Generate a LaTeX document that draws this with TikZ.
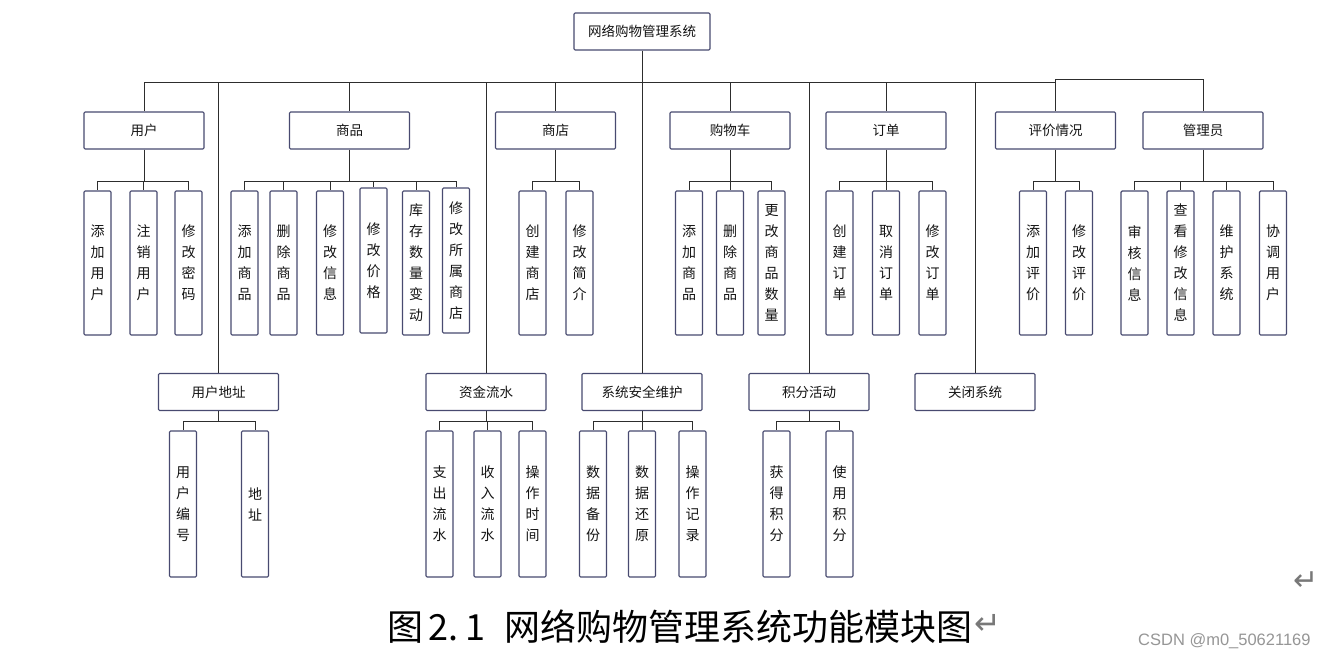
\documentclass[tikz,border=0pt]{standalone}
\usepackage{fontspec}
\newfontfamily\cjk{Noto Sans CJK SC}
\newfontfamily\dejavu{DejaVu Sans}
\newfontfamily\lsans{Liberation Sans}
\definecolor{boxc}{RGB}{72,74,112}
\definecolor{linec}{RGB}{45,45,45}
\definecolor{txt}{RGB}{20,20,20}
\definecolor{markc}{RGB}{120,120,120}
\definecolor{wmc}{RGB}{150,150,150}
\tikzset{
  box/.style={draw=boxc, line width=1.1pt, rounded corners=1.2pt, fill=white, inner sep=0pt, text=txt},
  topbox/.style={box, minimum width=120pt, minimum height=37pt, font=\cjk\fontsize{13.5}{16}\selectfont},
  leafbox/.style={box, minimum width=27pt, minimum height=144pt, align=center, font=\cjk\fontsize{14}{21}\selectfont},
  leaftwo/.style={leafbox, minimum height=146pt},
  conn/.style={draw=linec, line width=0.9pt},
}
\begin{document}
\begin{tikzpicture}[x=1pt,y=-1pt]
\useasboundingbox[fill=white] (0,0) rectangle (1329,656);
% root
\node[topbox, minimum width=136pt] (root) at (642,31.5) {网络购物管理系统};
% first level
\node[topbox] (user) at (144,130.5) {用户};
\node[topbox] (goods) at (349.5,130.5) {商品};
\node[topbox] (shop) at (555.5,130.5) {商店};
\node[topbox] (cart) at (730,130.5) {购物车};
\node[topbox] (order) at (886,130.5) {订单};
\node[topbox] (review) at (1055.5,130.5) {评价情况};
\node[topbox] (admin) at (1203,130.5) {管理员};
% second level
\node[topbox] (addr) at (218.5,392) {用户地址};
\node[topbox] (fund) at (486,392) {资金流水};
\node[topbox] (safe) at (642,392) {系统安全维护};
\node[topbox] (points) at (809,392) {积分活动};
\node[topbox] (close) at (975,392) {关闭系统};
% leaves row 1
\node[leafbox] (u1) at (97.5,263) {添\\加\\用\\户};
\node[leafbox] (u2) at (143.5,263) {注\\销\\用\\户};
\node[leafbox] (u3) at (188.5,263) {修\\改\\密\\码};
\node[leafbox] (g1) at (244.5,263) {添\\加\\商\\品};
\node[leafbox] (g2) at (283.5,263) {删\\除\\商\\品};
\node[leafbox] (g3) at (330,263) {修\\改\\信\\息};
\node[leafbox, minimum height=145pt] (g4) at (373.5,260.5) {修\\改\\价\\格};
\node[leafbox] (g5) at (416,263) {库\\存\\数\\量\\变\\动};
\node[leafbox, minimum height=145pt] (g6) at (456,260.5) {修\\改\\所\\属\\商\\店};
\node[leafbox] (s1) at (532.5,263) {创\\建\\商\\店};
\node[leafbox] (s2) at (579.5,263) {修\\改\\简\\介};
\node[leafbox] (c1) at (689,263) {添\\加\\商\\品};
\node[leafbox] (c2) at (730,263) {删\\除\\商\\品};
\node[leafbox] (c3) at (771.5,263) {更\\改\\商\\品\\数\\量};
\node[leafbox] (o1) at (839.5,263) {创\\建\\订\\单};
\node[leafbox] (o2) at (886,263) {取\\消\\订\\单};
\node[leafbox] (o3) at (932.5,263) {修\\改\\订\\单};
\node[leafbox] (r1) at (1033,263) {添\\加\\评\\价};
\node[leafbox] (r2) at (1079,263) {修\\改\\评\\价};
\node[leafbox] (a1) at (1134.5,263) {审\\核\\信\\息};
\node[leafbox] (a2) at (1180.5,263) {查\\看\\修\\改\\信\\息};
\node[leafbox] (a3) at (1226.5,263) {维\\护\\系\\统};
\node[leafbox] (a4) at (1273,263) {协\\调\\用\\户};
% leaves row 2
\node[leaftwo] (ad1) at (183,504) {用\\户\\编\\号};
\node[leaftwo] (ad2) at (255,504) {地\\址};
\node[leaftwo] (f1) at (439.5,504) {支\\出\\流\\水};
\node[leaftwo] (f2) at (487.5,504) {收\\入\\流\\水};
\node[leaftwo] (f3) at (532.5,504) {操\\作\\时\\间};
\node[leaftwo] (sf1) at (593,504) {数\\据\\备\\份};
\node[leaftwo] (sf2) at (642,504) {数\\据\\还\\原};
\node[leaftwo] (sf3) at (692.5,504) {操\\作\\记\\录};
\node[leaftwo] (p1) at (776.5,504) {获\\得\\积\\分};
\node[leaftwo] (p2) at (839.5,504) {使\\用\\积\\分};
% main bus
\coordinate (bus) at (642,82);
\coordinate (revtop) at (1055.5,79);
\draw[conn] (root.south) -- (safe.north);
\foreach \n in {user,goods,shop,cart,order,review,addr,fund,points,close}
  \draw[conn] (bus) -| (\n.north);
\draw[conn] (review.north) -- (revtop) -| (admin.north);
% group buses
\foreach \p/\x/\y/\kids in {user/144/181/{u1,u2,u3}, goods/349.5/181/{g1,g2,g3,g4,g5,g6}, shop/555.5/181/{s1,s2}, cart/730/181/{c1,c2,c3}, order/886/181/{o1,o2,o3}, review/1055.5/181/{r1,r2}, admin/1203/181/{a1,a2,a3,a4}, addr/218.5/421/{ad1,ad2}, fund/486/421/{f1,f2,f3}, safe/642/421/{sf1,sf2,sf3}, points/809/421/{p1,p2}}{
  \coordinate (\p-b) at (\x,\y);
  \draw[conn] (\p.south) -- (\p-b);
  \foreach \k in \kids \draw[conn] (\p-b) -| (\k.north);
}
% caption
\node[anchor=base west, inner sep=0pt, font=\cjk\fontsize{36}{40}\selectfont, text=black] (cap) at (387,640) {图\kern5pt 2.\kern7pt 1\kern19pt 网络购物管理系统功能模块图};
\node[inner sep=0pt, font=\dejavu\fontsize{32}{36}\selectfont, text=markc] (capret) at (987.5,624) {↵};
\node[inner sep=0pt, font=\dejavu\fontsize{30}{34}\selectfont, text=markc] (topret) at (1306.5,581) {↵};
\node[anchor=base west, inner sep=0pt, font=\lsans\fontsize{16.5}{20}\selectfont, text=wmc] (wm) at (1138,645) {CSDN @m0\_50621169};
\end{tikzpicture}
\end{document}
